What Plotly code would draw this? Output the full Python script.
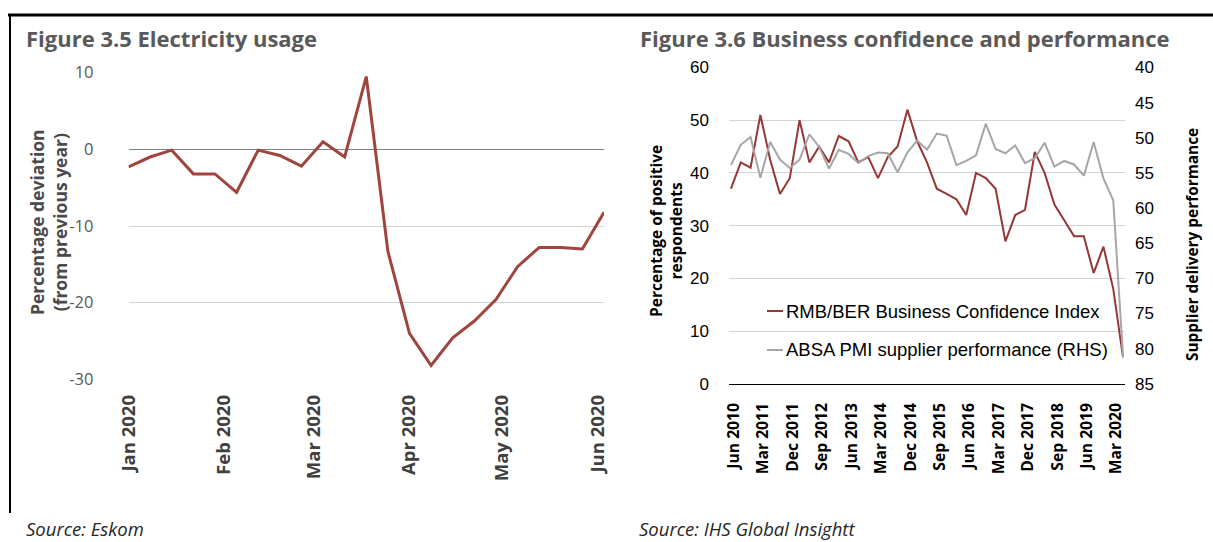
import plotly.graph_objects as go

W, H = 1213, 542

# ---------------- Figure 3.5 data (weekly) ----------------
elec_dates = ["2020-01-01", "2020-01-08", "2020-01-15", "2020-01-22", "2020-01-29",
              "2020-02-05", "2020-02-12", "2020-02-19", "2020-02-26", "2020-03-04",
              "2020-03-11", "2020-03-18", "2020-03-25", "2020-04-01", "2020-04-08",
              "2020-04-15", "2020-04-22", "2020-04-29", "2020-05-06", "2020-05-13",
              "2020-05-20", "2020-05-27", "2020-06-03"]
elec_values = [-2.3, -1.0, -0.1, -3.2, -3.2, -5.6, -0.1, -0.8, -2.2, 1.0,
               -1.0, 9.5, -13.3, -24.0, -28.2, -24.6, -22.4, -19.6, -15.3, -12.8,
               -12.8, -13.0, -8.2]
elec_tick_dates = ["2020-01-01", "2020-02-01", "2020-03-01", "2020-04-01", "2020-05-01", "2020-06-01"]
elec_tick_labels = ["Jan 2020", "Feb 2020", "Mar 2020", "Apr 2020", "May 2020", "Jun 2020"]

# ---------------- Figure 3.6 data (quarterly) ----------------
quarters = ["Jun 2010", "Sep 2010", "Dec 2010",
            "Mar 2011", "Jun 2011", "Sep 2011", "Dec 2011",
            "Mar 2012", "Jun 2012", "Sep 2012", "Dec 2012",
            "Mar 2013", "Jun 2013", "Sep 2013", "Dec 2013",
            "Mar 2014", "Jun 2014", "Sep 2014", "Dec 2014",
            "Mar 2015", "Jun 2015", "Sep 2015", "Dec 2015",
            "Mar 2016", "Jun 2016", "Sep 2016", "Dec 2016",
            "Mar 2017", "Jun 2017", "Sep 2017", "Dec 2017",
            "Mar 2018", "Jun 2018", "Sep 2018", "Dec 2018",
            "Mar 2019", "Jun 2019", "Sep 2019", "Dec 2019",
            "Mar 2020", "Jun 2020"]
bci = [37, 42, 41, 51, 42.5, 36, 39, 50, 42, 45,
       42, 47, 46, 42, 43, 39, 43, 45, 52, 46,
       42, 37, 36, 35, 32, 40, 39, 37, 27, 32,
       33, 44, 40, 34, 31, 28, 28, 21, 26, 18, 5]
pmi = [53.9, 51.0, 49.9, 55.7, 50.6, 53.1, 54.3, 53.1, 49.5, 51.3,
       54.4, 51.7, 52.3, 53.6, 52.6, 52.1, 52.2, 54.9, 52.1, 50.4,
       51.7, 49.4, 49.7, 53.9, 53.3, 52.5, 48.0, 51.6, 52.2, 51.1,
       53.6, 52.9, 50.7, 54.1, 53.3, 53.8, 55.4, 50.6, 55.8, 58.9, 81.2]
bci_tick_labels = ["Jun 2010", "Mar 2011", "Dec 2011", "Sep 2012", "Jun 2013", "Mar 2014",
                   "Dec 2014", "Sep 2015", "Jun 2016", "Mar 2017", "Dec 2017", "Sep 2018",
                   "Jun 2019", "Mar 2020"]
left_ticks = [0, 10, 20, 30, 40, 50, 60]
right_ticks = [40, 45, 50, 55, 60, 65, 70, 75, 80, 85]

RED_L = "#a0443e"
RED_R = "#953735"
GREY = "#a6a6a6"
GRID = "#d4d4d4"


def px(x):
    return x / W


def py(y):
    return 1 - y / H


fig = go.Figure()
fig.add_trace(go.Scatter(x=elec_dates, y=elec_values, mode="lines",
                         line=dict(color=RED_L, width=3), xaxis="x", yaxis="y",
                         name="Electricity usage"))
fig.add_trace(go.Scatter(x=quarters, y=bci, mode="lines",
                         line=dict(color=RED_R, width=2), xaxis="x2", yaxis="y2",
                         name="RMB/BER Business Confidence Index"))
fig.add_trace(go.Scatter(x=quarters, y=pmi, mode="lines",
                         line=dict(color=GREY, width=2), xaxis="x2", yaxis="y3",
                         name="ABSA PMI supplier performance (RHS)"))

fig.update_layout(
    width=W, height=H, autosize=False,
    margin=dict(l=0, r=0, t=0, b=0, pad=0, autoexpand=False),
    paper_bgcolor="white", plot_bgcolor="white",
    showlegend=False,
    xaxis=dict(domain=[px(128.5), px(604)], anchor="y", type="date", automargin=False,
               range=[elec_dates[0], elec_dates[-1]],
               tickmode="array", tickvals=elec_tick_dates, ticktext=elec_tick_labels,
               tickangle=-90, ticks="", showgrid=False, showline=False, zeroline=False,
               ticklabelstandoff=11,
               tickfont=dict(family="Open Sans", size=18.5, color="#404040", weight="bold")),
    yaxis=dict(domain=[py(379.3), py(72.7)], anchor="x", range=[-30, 10], automargin=False,
               tickmode="array", tickvals=[-30, -20, -10, 0, 10],
               ticktext=["-30", "-20", "-10", "0", "10"],
               showgrid=True, gridcolor=GRID, gridwidth=1,
               zeroline=True, zerolinecolor="#808080", zerolinewidth=1.3,
               showline=False, ticks="", ticklabelstandoff=34,
               tickfont=dict(family="Open Sans", size=16.5, color="#595959")),
    xaxis2=dict(domain=[px(729), px(1125)], anchor="y2", type="category", automargin=False,
                categoryorder="array", categoryarray=quarters,
                range=[-0.2, len(quarters) - 0.8],
                tickmode="array", tickvals=bci_tick_labels, ticktext=bci_tick_labels,
                tickangle=-90, ticks="", showgrid=False, showline=True,
                linecolor="#000000", linewidth=1, ticklabelstandoff=12, ticklabelshift=3,
                tickfont=dict(family="Open Sans", size=15.7, color="#000000", weight="bold")),
    yaxis2=dict(domain=[py(383.7), py(67.5)], anchor="x2", range=[0, 60], automargin=False,
                tickmode="array", tickvals=left_ticks,
                showgrid=True, gridcolor=GRID, gridwidth=1, zeroline=False,
                ticks="", ticklabelstandoff=19,
                tickfont=dict(family="Liberation Sans", size=17, color="#000000")),
    yaxis3=dict(domain=[py(383.7), py(67.5)], anchor="x2", overlaying="y2", side="right",
                automargin=False,
                range=[85, 40], tickmode="array", tickvals=right_ticks,
                showgrid=False, zeroline=False, ticks="", ticklabelstandoff=9,
                tickfont=dict(family="Liberation Sans", size=17, color="#000000")),
)

title_font = dict(family="Open Sans", size=22, color="#595959", weight="bold")
ann = []
ann.append(dict(text="Figure 3.5 Electricity usage", x=px(24), y=py(38.5),
                xanchor="left", yanchor="middle", font=title_font))
ann.append(dict(text="Figure 3.6 Business confidence and performance", x=px(638), y=py(38.5),
                xanchor="left", yanchor="middle", font=title_font))
ann.append(dict(text="Percentage deviation<br>(from previous year)", x=px(48), y=py(222),
                textangle=-90, xanchor="center", yanchor="middle",
                font=dict(family="Open Sans", size=17.5, color="#4a4a4a", weight="bold")))
ann.append(dict(text="Percentage of positive<br>respondents", x=px(666), y=py(231),
                textangle=-90, xanchor="center", yanchor="middle",
                font=dict(family="Open Sans", size=15.5, color="#000000", weight="bold")))
ann.append(dict(text="Supplier delivery performance", x=px(1192), y=py(245),
                textangle=-90, xanchor="center", yanchor="middle",
                font=dict(family="Open Sans", size=15.4, color="#000000", weight="bold")))
leg_font = dict(family="Liberation Sans", size=18.5, color="#000000")
ann.append(dict(text="RMB/BER Business Confidence Index", x=px(784), y=py(311.5),
                xanchor="left", yanchor="middle", font=leg_font))
ann.append(dict(text="ABSA PMI supplier performance (RHS)", x=px(784), y=py(349.5),
                xanchor="left", yanchor="middle", font=leg_font))
src_font = dict(family="Open Sans", size=18.5, color="#262626", style="italic")
ann.append(dict(text="Source: Eskom", x=px(24), y=py(528),
                xanchor="left", yanchor="middle", font=src_font))
ann.append(dict(text="Source: IHS Global Insightt", x=px(637), y=py(528),
                xanchor="left", yanchor="middle", font=src_font))
for a in ann:
    a.update(xref="paper", yref="paper", showarrow=False)
fig.update_layout(annotations=ann)

shapes = [
    dict(type="line", x0=px(8), x1=px(1213), y0=py(15), y1=py(15), line=dict(color="#000000", width=3)),
    dict(type="line", x0=px(10), x1=px(10), y0=py(15), y1=py(513), line=dict(color="#000000", width=2)),
    dict(type="line", x0=px(767), x1=px(783), y0=py(311), y1=py(311), line=dict(color=RED_R, width=2)),
    dict(type="line", x0=px(767), x1=px(783), y0=py(350), y1=py(350), line=dict(color=GREY, width=2)),
]
for s in shapes:
    s.update(xref="paper", yref="paper")
fig.update_layout(shapes=shapes)

fig.write_html("out.html")
